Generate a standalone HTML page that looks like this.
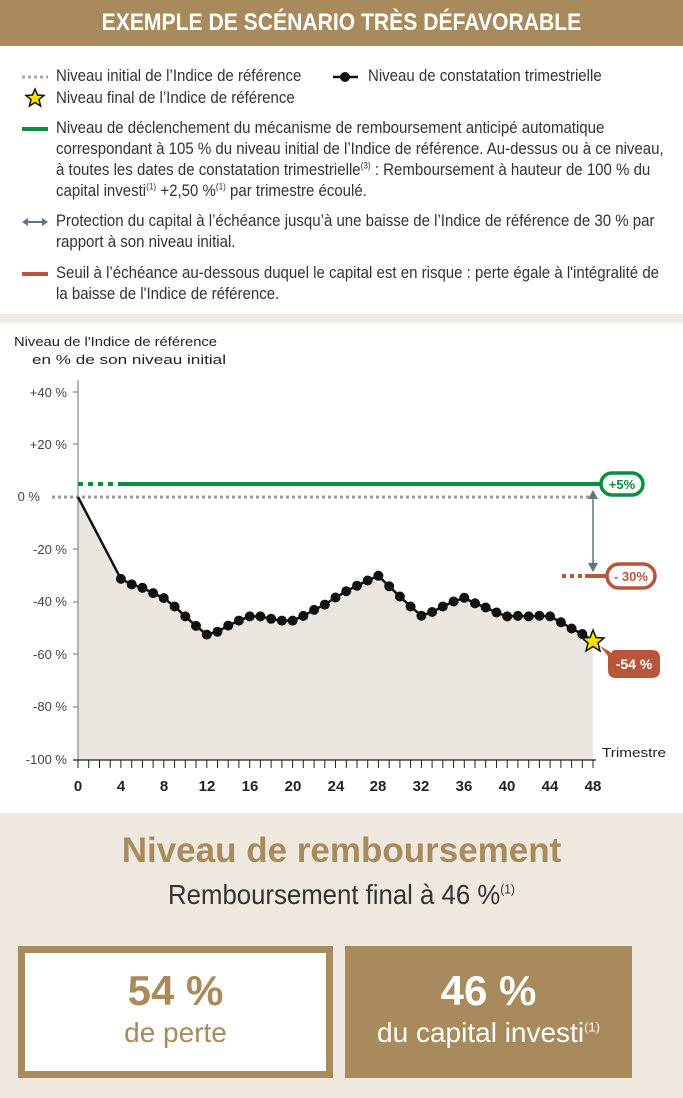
<!DOCTYPE html>
<html><head><meta charset="utf-8"><style>
html,body{margin:0;padding:0;width:683px;height:1098px;overflow:hidden;background:#fff}
body{position:relative;font-family:"Liberation Sans Narrow","Liberation Sans",sans-serif;color:#333}
.hdr{position:absolute;left:0;top:0;width:683px;height:46px;background:#a98a5c}
.hdr div{position:absolute;left:0;top:0;width:683px;color:#fff;font-weight:bold;font-size:24px;text-align:center;line-height:46px;transform:scaleX(0.88);transform-origin:341px 0}
.lg{position:absolute;font-size:16.5px;line-height:21px;color:#333;white-space:nowrap;transform:scaleX(0.91);transform-origin:0 0}
sup{font-size:9px;line-height:0}
.band{position:absolute;left:0;top:314px;width:683px;height:9px;background:#f0ebe5}
.bottom{position:absolute;left:0;top:813px;width:683px;height:285px;background:#efe8df}
</style></head><body>
<div class="hdr"><div>EXEMPLE DE SCÉNARIO TRÈS DÉFAVORABLE</div></div>

<svg style="position:absolute;left:0;top:0" width="683" height="320">
<line x1="22" y1="77" x2="48" y2="77" stroke="#aaa" stroke-width="3" stroke-dasharray="3,3"/>
<line x1="333" y1="77" x2="358" y2="77" stroke="#111" stroke-width="2.5"/><circle cx="345" cy="77" r="5" fill="#111"/>
<polygon points="35,89 37.6,95 44,95.5 39,99.6 40.6,106 35,102.5 29.4,106 31,99.6 26,95.5 32.4,95" fill="#f5e000" stroke="#111" stroke-width="1.5"/>
<line x1="22" y1="129" x2="48" y2="129" stroke="#0a8f3c" stroke-width="4"/>
<line x1="26" y1="222" x2="44" y2="222" stroke="#5e7680" stroke-width="2"/>
<polygon points="22,222 28,218 28,226" fill="#5e7680"/><polygon points="48,222 42,218 42,226" fill="#5e7680"/>
<line x1="22" y1="274" x2="48" y2="274" stroke="#b8553a" stroke-width="4"/>
</svg>
<div class="lg" style="left:56px;top:66px">Niveau initial de l’Indice de référence</div>
<div class="lg" style="left:368px;top:66px">Niveau de constatation trimestrielle</div>
<div class="lg" style="left:56px;top:88px">Niveau final de l’Indice de référence</div>
<div class="lg" style="left:56px;top:118px">Niveau de déclenchement du mécanisme de remboursement anticipé automatique<br>correspondant à 105 % du niveau initial de l’Indice de référence. Au-dessus ou à ce niveau,<br>à toutes les dates de constatation trimestrielle<sup>(3)</sup> : Remboursement à hauteur de 100 % du<br>capital investi<sup>(1)</sup> +2,50 %<sup>(1)</sup> par trimestre écoulé.</div>
<div class="lg" style="left:56px;top:211px">Protection du capital à l’échéance jusqu’à une baisse de l’Indice de référence de 30 % par<br>rapport à son niveau initial.</div>
<div class="lg" style="left:56px;top:263px">Seuil à l’échéance au-dessous duquel le capital est en risque : perte égale à l'intégralité de<br>la baisse de l'Indice de référence.</div>
<div class="band"></div>

<svg style="position:absolute;left:0;top:323px" width="683" height="490" viewBox="0 323 683 490" font-family="Liberation Sans Narrow, Liberation Sans, sans-serif">
<text x="14" y="346" font-size="13" fill="#222" textLength="203" lengthAdjust="spacingAndGlyphs">Niveau de l'Indice de référence</text>
<text x="32" y="364" font-size="13" fill="#222" textLength="194" lengthAdjust="spacingAndGlyphs">en % de son niveau initial</text>
<polygon fill="#ebe6e0" points="78,497 120.9,578.9 131.7,584.4 142.4,587.8 153.1,593.1 163.8,598.1 174.6,606.5 185.3,616.4 196,625.9 206.8,634.6 217.5,631.7 228.2,625.6 238.9,620.6 249.7,616.4 260.4,616.4 271.1,618.8 281.9,620.6 292.6,620.6 303.3,615.9 314.1,609.9 324.8,604.6 335.5,597.5 346.3,591.2 357,585.7 367.7,580.5 378.4,575.8 389.2,586.3 399.9,596.5 410.6,606.5 421.4,615.7 432.1,612 442.8,606.5 453.6,601.5 464.3,597.8 475,603.3 485.7,607.5 496.5,612.5 507.2,616.4 517.9,615.9 528.7,616.4 539.4,615.7 550.1,616.4 560.9,622.2 571.6,628.5 582.3,634 593,640.9 593,760 78,760"/>
<g font-size="13" fill="#444" text-anchor="end">
<text x="67" y="397">+40 %</text><text x="67" y="449">+20 %</text><text x="40" y="501">0 %</text>
<text x="67" y="554">-20 %</text><text x="67" y="606">-40 %</text><text x="67" y="659">-60 %</text>
<text x="67" y="711">-80 %</text><text x="67" y="764">-100 %</text></g>
<line x1="78" y1="380" x2="78" y2="762" stroke="#888" stroke-width="1.2"/>
<g stroke="#888" stroke-width="1.2"><line x1="73" y1="392" x2="78" y2="392"/><line x1="73" y1="444" x2="78" y2="444"/><line x1="73" y1="549" x2="78" y2="549"/><line x1="73" y1="602" x2="78" y2="602"/><line x1="73" y1="654" x2="78" y2="654"/><line x1="73" y1="707" x2="78" y2="707"/></g>
<line x1="73" y1="760" x2="596" y2="760" stroke="#222" stroke-width="1.3"/>
<line x1="52" y1="497" x2="593" y2="497" stroke="#999" stroke-width="3" stroke-dasharray="3,3"/>
<line x1="78" y1="484" x2="118" y2="484" stroke="#0a8f3c" stroke-width="4" stroke-dasharray="5,5"/>
<line x1="118" y1="484" x2="605" y2="484" stroke="#0a8f3c" stroke-width="4"/>
<rect x="601" y="473" width="42" height="22" rx="11" fill="#fff" stroke="#0a8f3c" stroke-width="3.5"/>
<text x="622" y="489" font-size="13" font-weight="bold" fill="#0a8f3c" text-anchor="middle">+5%</text>
<line x1="593" y1="498" x2="593" y2="567" stroke="#5e7680" stroke-width="1.5"/>
<polygon points="593,490 588,499 598,499" fill="#5e7680"/><polygon points="593,572 588,563 598,563" fill="#5e7680"/>
<line x1="562" y1="576" x2="585" y2="576" stroke="#b8553a" stroke-width="4" stroke-dasharray="4,4"/>
<line x1="585" y1="576" x2="608" y2="576" stroke="#b8553a" stroke-width="4"/>
<rect x="607" y="564" width="48" height="24" rx="12" fill="#fff" stroke="#b8553a" stroke-width="3.5"/>
<text x="631" y="581" font-size="13" font-weight="bold" fill="#b8553a" text-anchor="middle">- 30%</text>
<path d="M600,646 L612,653 L612,652 Q612,650 616,650 L652,650 Q660,650 660,658 L660,670 Q660,678 652,678 L616,678 Q608,678 608,670 L608,656 Z" fill="#b8553a"/>
<text x="634" y="669" font-size="14" font-weight="bold" fill="#fff" text-anchor="middle">-54 %</text>
<polyline fill="none" stroke="#111" stroke-width="2.5" points="78,497 120.9,578.9 131.7,584.4 142.4,587.8 153.1,593.1 163.8,598.1 174.6,606.5 185.3,616.4 196,625.9 206.8,634.6 217.5,631.7 228.2,625.6 238.9,620.6 249.7,616.4 260.4,616.4 271.1,618.8 281.9,620.6 292.6,620.6 303.3,615.9 314.1,609.9 324.8,604.6 335.5,597.5 346.3,591.2 357,585.7 367.7,580.5 378.4,575.8 389.2,586.3 399.9,596.5 410.6,606.5 421.4,615.7 432.1,612 442.8,606.5 453.6,601.5 464.3,597.8 475,603.3 485.7,607.5 496.5,612.5 507.2,616.4 517.9,615.9 528.7,616.4 539.4,615.7 550.1,616.4 560.9,622.2 571.6,628.5 582.3,634 593,640.9"/>
<g fill="#111">
<circle cx="120.9" cy="578.9" r="5"/><circle cx="131.7" cy="584.4" r="5"/><circle cx="142.4" cy="587.8" r="5"/><circle cx="153.1" cy="593.1" r="5"/><circle cx="163.8" cy="598.1" r="5"/><circle cx="174.6" cy="606.5" r="5"/><circle cx="185.3" cy="616.4" r="5"/><circle cx="196" cy="625.9" r="5"/><circle cx="206.8" cy="634.6" r="5"/><circle cx="217.5" cy="631.7" r="5"/><circle cx="228.2" cy="625.6" r="5"/><circle cx="238.9" cy="620.6" r="5"/><circle cx="249.7" cy="616.4" r="5"/><circle cx="260.4" cy="616.4" r="5"/><circle cx="271.1" cy="618.8" r="5"/><circle cx="281.9" cy="620.6" r="5"/><circle cx="292.6" cy="620.6" r="5"/><circle cx="303.3" cy="615.9" r="5"/><circle cx="314.1" cy="609.9" r="5"/><circle cx="324.8" cy="604.6" r="5"/><circle cx="335.5" cy="597.5" r="5"/><circle cx="346.3" cy="591.2" r="5"/><circle cx="357" cy="585.7" r="5"/><circle cx="367.7" cy="580.5" r="5"/><circle cx="378.4" cy="575.8" r="5"/><circle cx="389.2" cy="586.3" r="5"/><circle cx="399.9" cy="596.5" r="5"/><circle cx="410.6" cy="606.5" r="5"/><circle cx="421.4" cy="615.7" r="5"/><circle cx="432.1" cy="612" r="5"/><circle cx="442.8" cy="606.5" r="5"/><circle cx="453.6" cy="601.5" r="5"/><circle cx="464.3" cy="597.8" r="5"/><circle cx="475" cy="603.3" r="5"/><circle cx="485.7" cy="607.5" r="5"/><circle cx="496.5" cy="612.5" r="5"/><circle cx="507.2" cy="616.4" r="5"/><circle cx="517.9" cy="615.9" r="5"/><circle cx="528.7" cy="616.4" r="5"/><circle cx="539.4" cy="615.7" r="5"/><circle cx="550.1" cy="616.4" r="5"/><circle cx="560.9" cy="622.2" r="5"/><circle cx="571.6" cy="628.5" r="5"/><circle cx="582.3" cy="634" r="5"/>
</g>
<polygon points="593,630 596,637.5 604,638 598,643 600,651 593,646.5 586,651 588,643 582,638 590,637.5" fill="#f5e000" stroke="#111" stroke-width="1.5"/>
<text x="602" y="757" font-size="13" fill="#222" textLength="64" lengthAdjust="spacingAndGlyphs">Trimestre</text>
<g font-size="15" font-weight="bold" fill="#222" text-anchor="middle">
<text x="78" y="791">0</text><text x="121" y="791">4</text><text x="164" y="791">8</text><text x="207" y="791">12</text><text x="250" y="791">16</text><text x="293" y="791">20</text><text x="336" y="791">24</text><text x="378" y="791">28</text><text x="421" y="791">32</text><text x="464" y="791">36</text><text x="507" y="791">40</text><text x="550" y="791">44</text><text x="593" y="791">48</text></g>
<path stroke="#222" stroke-width="1" d="M88.7,760v8M99.5,760v8M110.2,760v8M120.9,760v8M131.7,760v8M142.4,760v8M153.1,760v8M163.8,760v8M174.6,760v8M185.3,760v8M196,760v8M206.8,760v8M217.5,760v8M228.2,760v8M238.9,760v8M249.7,760v8M260.4,760v8M271.1,760v8M281.9,760v8M292.6,760v8M303.3,760v8M314.1,760v8M324.8,760v8M335.5,760v8M346.3,760v8M357,760v8M367.7,760v8M378.4,760v8M389.2,760v8M399.9,760v8M410.6,760v8M421.4,760v8M432.1,760v8M442.8,760v8M453.6,760v8M464.3,760v8M475,760v8M485.7,760v8M496.5,760v8M507.2,760v8M517.9,760v8M528.7,760v8M539.4,760v8M550.1,760v8M560.9,760v8M571.6,760v8M582.3,760v8M593,760v8M78,760v8"/>
</svg>

<div class="bottom">
<div style="position:absolute;left:0;width:683px;top:18px;text-align:center;font-size:35px;font-weight:bold;color:#a98a5c">Niveau de remboursement</div>
<div style="position:absolute;left:0;width:683px;top:66px;text-align:center;font-size:28px;color:#333;transform:scaleX(0.92);transform-origin:341px 0">Remboursement final à 46 %<sup style="font-size:13px">(1)</sup></div>
<div style="position:absolute;left:18px;top:133px;width:301px;height:118px;border:7px solid #a98a5c;background:#fff;text-align:center;color:#a98a5c">
<div style="font-size:42px;font-weight:bold;margin-top:14px;line-height:48px">54 %</div>
<div style="font-size:28px;line-height:36px">de perte</div></div>
<div style="position:absolute;left:345px;top:133px;width:287px;height:132px;background:#a98a5c;text-align:center;color:#fff">
<div style="font-size:42px;font-weight:bold;margin-top:21px;line-height:48px">46 %</div>
<div style="font-size:28px;line-height:36px">du capital investi<sup style="font-size:13px">(1)</sup></div></div>
</div>
</body></html>
